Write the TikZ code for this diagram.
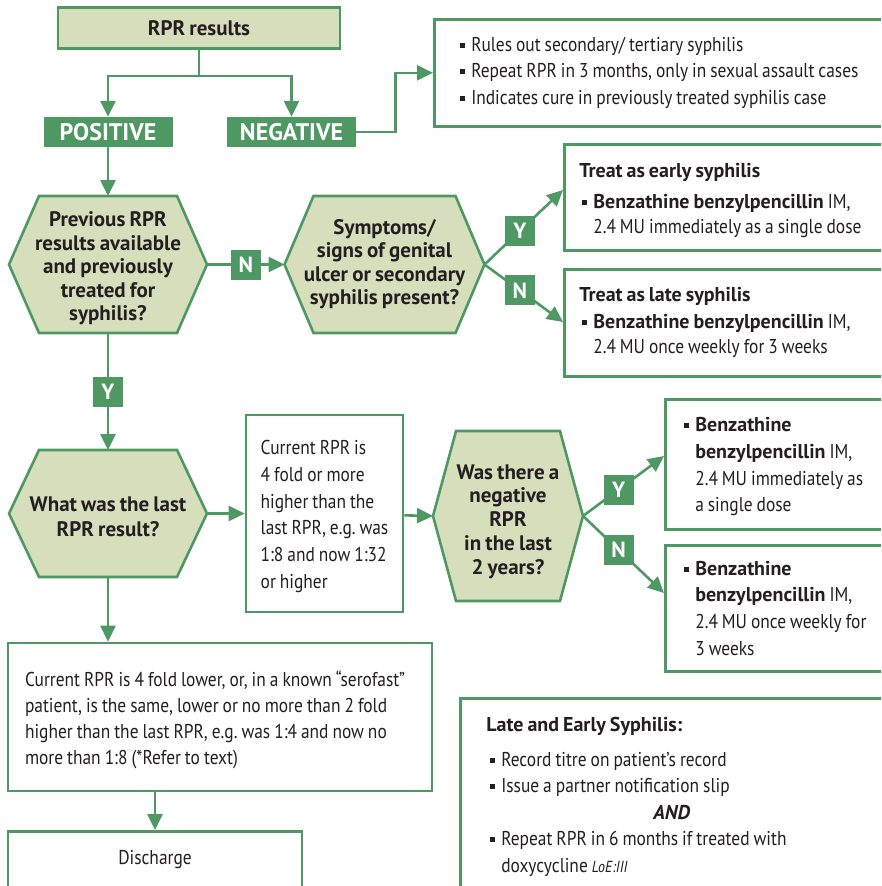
\documentclass[tikz,border=0pt]{standalone}
\usepackage{fontspec}
\setmainfont{PT Sans}[UprightFeatures={FakeStretch=0.87},ItalicFeatures={FakeStretch=0.87},
  BoldFeatures={FakeStretch=1.0},BoldItalicFeatures={FakeStretch=1.0}]
\frenchspacing
\usetikzlibrary{arrows.meta,positioning}

\definecolor{rprgreen}{RGB}{78,152,100}
\definecolor{rprpale}{RGB}{214,222,188}
\definecolor{rprink}{RGB}{35,31,32}

\newcommand{\tsp}{\spaceskip=0.2em plus 0.1em minus 0.03em\relax}
\newcommand{\sqbul}{\makebox[11pt][l]{\raisebox{3.5pt}{\rule{5pt}{5pt}}}}
\newcommand{\hexbox}[6]{%
  \draw[hexline] (#2-#4+#6,#3-#5) -- (#2+#4-#6,#3-#5) -- (#2+#4,#3)
    -- (#2+#4-#6,#3+#5) -- (#2-#4+#6,#3+#5) -- (#2-#4,#3) -- cycle;
  \coordinate (#1-w) at (#2-#4,#3);
  \coordinate (#1-e) at (#2+#4,#3);
  \coordinate (#1-n) at (#2,#3-#5);
  \coordinate (#1-s) at (#2,#3+#5);}

\tikzset{
  ln/.style={draw=rprgreen,line width=2.6pt},
  arr/.style={ln,-{Triangle[length=16pt,width=15pt]}},
  hexline/.style={draw=rprgreen,fill=rprpale,line width=2.6pt},
  hextext/.style={align=center,text=rprink,inner sep=0pt,execute at begin node=\tsp,
    font=\fontsize{21}{23.5}\selectfont\bfseries},
  greenbox/.style={draw=rprgreen,line width=2.6pt,fill=white,text=rprink,
    align=left,execute at begin node=\tsp,font=\fontsize{20}{26.5}\selectfont},
  tag/.style={fill=rprgreen,text=white,minimum size=30pt,inner sep=0pt,
    font=\fontsize{22}{22}\selectfont\bfseries},
  bigtag/.style={tag,minimum width=129pt,font=\fontsize{24}{24}\selectfont\bfseries}
}

\begin{document}
\begin{tikzpicture}[x=1pt,y=-1pt]
\clip (0,0) rectangle (881,886);

\hexbox{h1}{108}{264.5}{99}{68.5}{30}
\hexbox{h2}{384.5}{264.5}{100}{68.5}{29}
\hexbox{h3}{108}{513.5}{99}{63.5}{30}
\hexbox{h4}{508}{516}{75}{85}{23}

\node[greenbox,fill=rprpale,minimum width=282pt,minimum height=41pt,align=center,
  font=\fontsize{21}{21}\selectfont\bfseries] (rpr) at (199,28) {RPR results};
\node[bigtag] (pos) at (108,132) {POSITIVE};
\node[bigtag] (neg) at (291.5,132) {NEGATIVE};

\node[greenbox,anchor=north west,minimum height=107pt,text width=430pt,inner xsep=26pt]
  (negres) at (433,18) {\sqbul Rules out secondary/ tertiary syphilis\\
  \sqbul Repeat RPR in 3 months, only in sexual assault cases\\
  \sqbul Indicates cure in previously treated syphilis case};

\node[hextext] (prevq) at (108,268.5) {Previous RPR\\results available\\and previously\\treated for\\syphilis?};
\node[hextext] (symq) at (384.5,264) {Symptoms/\\signs of genital\\ulcer or secondary\\syphilis present?};
\node[hextext,font=\fontsize{21}{25}\selectfont\bfseries] (lastq) at (108,517) {What was the last\\RPR result?};
\node[hextext,font=\fontsize{21}{23.8}\selectfont\bfseries] (negq) at (508,521.5) {Was there a\\negative\\RPR\\in the last\\2 years?};

\node[greenbox,anchor=north west,minimum height=106pt,text width=300pt,inner xsep=15pt,
  font=\fontsize{20}{25.5}\selectfont] (early) at (563,143)
  {\rule{0pt}{21pt}\textbf{Treat as early syphilis}\\[5pt]
  \hspace*{3pt}\sqbul\textbf{Benzathine benzylpencillin} IM,\\
  \hspace*{14pt}2.4 MU immediately as a single dose};
\node[greenbox,anchor=north west,minimum height=107pt,text width=300pt,inner xsep=15pt,
  font=\fontsize{20}{25.5}\selectfont] (late) at (563,268)
  {\textbf{Treat as late syphilis}\\[1pt]
  \hspace*{3pt}\sqbul\textbf{Benzathine benzylpencillin} IM,\\
  \hspace*{14pt}2.4 MU once weekly for 3 weeks};

\node[greenbox,minimum width=157pt,minimum height=197pt,
  font=\fontsize{20}{26.7}\selectfont] (rise) at (324.5,513.5)
  {\rule{0pt}{20pt}Current RPR is\\4 fold or more\\higher than the\\last RPR, e.g. was\\1:8 and now 1:32\\or higher};

\node[greenbox,anchor=north west,minimum height=130pt,text width=220pt,inner xsep=19pt,
  font=\fontsize{20}{26.7}\selectfont] (imm) at (664,398)
  {\rule{0pt}{19pt}\sqbul\textbf{Benzathine}\\
  \hspace*{11pt}\textbf{benzylpencillin} IM,\\
  \hspace*{11pt}2.4 MU immediately as\\
  \hspace*{11pt}a single dose};
\node[greenbox,anchor=north west,minimum height=126pt,text width=220pt,inner xsep=19pt,
  font=\fontsize{20}{26.7}\selectfont] (wk) at (664,544)
  {\sqbul\textbf{Benzathine}\\
  \hspace*{11pt}\textbf{benzylpencillin} IM,\\
  \hspace*{11pt}2.4 MU once weekly for\\
  \hspace*{11pt}3 weeks};

\node[greenbox,minimum width=424pt,minimum height=148pt,text width=390pt,inner xsep=17pt,
  font=\fontsize{20}{26}\selectfont] (low) at (220,717)
  {\rule{0pt}{21pt}Current RPR is 4 fold lower, or, in a known “serofast”\\
  patient, is the same, lower or no more than 2 fold\\
  higher than the last RPR, e.g. was 1:4 and now no\\
  more than 1:8 (*Refer to text)};

\node[greenbox,anchor=north,minimum width=294pt,text height=14pt,text depth=60pt,inner ysep=19pt,
  align=center] (dis) at (155,830) {Discharge};

\node[greenbox,anchor=north west,text width=400pt,inner xsep=26pt,inner ysep=19pt,
  font=\fontsize{20}{26.5}\selectfont] (notes) at (459,697)
  {\textbf{Late and Early Syphilis:}\\[8pt]
  \hspace*{4pt}\sqbul Record titre on patient’s record\\
  \hspace*{4pt}\sqbul Issue a partner notification slip\\
  \hspace*{167pt}\textbf{\textit{AND}}\\
  \hspace*{4pt}\sqbul Repeat RPR in 6 months if treated with\\
  \hspace*{15pt}doxycycline {\fontsize{16}{16}\selectfont\itshape LoE:III}\\
  \mbox{}};

\coordinate (split) at (199,76);
\coordinate (early-in) at (563,190);
\coordinate (late-in) at (563,322);
\coordinate (imm-in) at (664,456);
\coordinate (wk-in) at (664,593);

\draw[ln] (rpr) -- (split);
\draw[arr] (split) -| (pos);
\draw[arr] (split) -| (neg);
\draw[arr] (neg.east) -- ++(39,0) |- (negres);
\draw[arr] (pos) -- (h1-n);
\draw[arr] (h1-e) -- node[tag] (n1) {N} (h2-w);
\draw[arr] (h1-s) -- node[tag] (y1) {Y} (h3-n);
\draw[arr] (h2-e) -- node[tag,pos=0.45] (y2) {Y} (early-in);
\draw[arr] (h2-e) -- node[tag,pos=0.45] (n2) {N} (late-in);
\draw[arr] (h3-e) -- (rise);
\draw[arr] (rise) -- (h4-w);
\draw[arr] (h4-e) -- node[tag,pos=0.44] (y3) {Y} (imm-in);
\draw[arr] (h4-e) -- node[tag,pos=0.44] (n3) {N} (wk-in);
\draw[arr] (h3-s) -- (h3-s |- low.north);
\draw[arr] (dis.north |- low.south) -- (dis);
\end{tikzpicture}
\end{document}
